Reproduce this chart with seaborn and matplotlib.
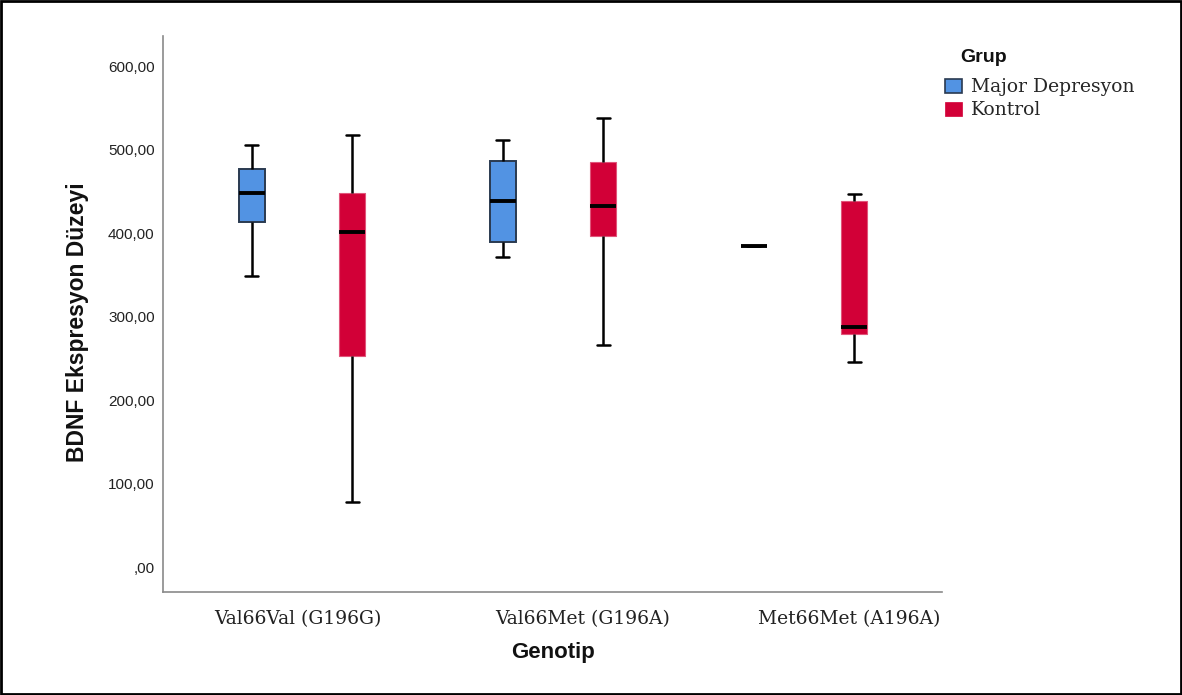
import numpy as np
import pandas as pd
import matplotlib
matplotlib.use("Agg")
import matplotlib.pyplot as plt
from matplotlib.ticker import FuncFormatter
from matplotlib.patches import Rectangle, Patch
import seaborn as sns

# ---- data (five-number summaries: min, Q1, median, Q3, max) ----
genotypes = ["Val66Val (G196G)", "Val66Met (G196A)", "Met66Met (A196A)"]
groups = ["Major Depresyon", "Kontrol"]

md_valval = [349, 414, 448, 477, 506]
md_valmet = [371, 389, 438, 486, 511]
md_metmet = [385]
kt_valval = [78, 253, 402, 448, 518]
kt_valmet = [266, 397, 433, 485, 538]
kt_metmet = [246, 280, 288, 439, 447]

ytick_values = [0, 100, 200, 300, 400, 500, 600]

rows = []
for g, vals in zip(genotypes, [md_valval, md_valmet, md_metmet]):
    rows += [(g, groups[0], v) for v in vals]
for g, vals in zip(genotypes, [kt_valval, kt_valmet, kt_metmet]):
    rows += [(g, groups[1], v) for v in vals]
df = pd.DataFrame(rows, columns=["Genotip", "Grup", "BDNF"])

blue = "#5293E3"
red = "#D20037"
palette = {groups[0]: blue, groups[1]: red}

sns.set_style("white")
fig = plt.figure(figsize=(11.82, 6.95), dpi=100)
ax = fig.add_axes([163 / 1182, 103 / 695, (942 - 163) / 1182, (592 - 36) / 695])

sns.boxplot(
    data=df, x="Genotip", y="BDNF", hue="Grup", order=genotypes, hue_order=groups,
    palette=palette, width=0.8, gap=0.74, whis=1.5, saturation=1,
    linecolor="#222222", linewidth=1.6, fliersize=0,
    medianprops=dict(color="black", linewidth=2.8),
    whiskerprops=dict(color="black", linewidth=1.8),
    capprops=dict(color="black", linewidth=1.8),
    ax=ax, legend=False,
)

for p in ax.patches:
    fc = p.get_facecolor()
    if fc[0] > 0.6 and fc[2] < 0.4:
        p.set_edgecolor("#E0557A")
        p.set_linewidth(0.8)
    else:
        p.set_edgecolor("#2a3a50")
        p.set_linewidth(1.4)

ax.set_xlim(-0.554, 2.55)
ax.set_ylim(-29.3, 636)
ax.set_yticks(ytick_values)

# tick labels sit slightly right of the category centres in the reference
label_shift = np.array([-0.016, 0.12, 0.18])
ax.set_xticks(np.arange(len(genotypes)) + label_shift, genotypes)

def fmt(v, pos):
    s = f"{v:.2f}".replace(".", ",")
    if s.startswith("0,"):
        s = s[1:]
    return s

ax.yaxis.set_major_formatter(FuncFormatter(fmt))
ax.tick_params(axis="both", length=0)
for lab in ax.get_yticklabels():
    lab.set_fontfamily("Liberation Sans")
    lab.set_fontsize(11)
    lab.set_color("#222222")
for lab in ax.get_xticklabels():
    lab.set_fontfamily("DejaVu Serif")
    lab.set_fontsize(13.5)
    lab.set_color("#222222")
ax.tick_params(axis="x", pad=13)
ax.tick_params(axis="y", pad=6)

for side in ["top", "right"]:
    ax.spines[side].set_visible(False)
for side in ["left", "bottom"]:
    ax.spines[side].set_color("#8a8a8a")
    ax.spines[side].set_linewidth(1.2)

ax.set_xlabel("Genotip", fontfamily="Liberation Sans", fontweight="bold", fontsize=16,
              labelpad=10, color="#111111")
ax.set_ylabel("BDNF Ekspresyon Düzeyi", fontfamily="Liberation Sans", fontweight="bold",
              fontsize=16.5, labelpad=10, color="#111111")
ax.yaxis.set_label_coords(-0.095, 0.485)

handles = [Patch(facecolor=blue, edgecolor="#2a3a50", linewidth=1.2),
           Patch(facecolor=red, edgecolor=red, linewidth=0.5)]
leg = fig.legend(handles, groups, loc="upper left", bbox_to_anchor=(937 / 1182, 1 - 71 / 695),
                 frameon=False,
                 prop={"family": "DejaVu Serif", "size": 13.5},
                 handlelength=0.95, handleheight=0.8, handletextpad=0.45, labelspacing=0.25,
                 borderaxespad=0)
fig.text(960 / 1182, 1 - 57 / 695, "Grup", fontfamily="Liberation Sans", fontweight="bold",
         fontsize=14, va="center", ha="left", color="#111111")

fig.patches.append(Rectangle((0.001, 0.0015), 0.998, 0.997, transform=fig.transFigure,
                             fill=False, edgecolor="black", linewidth=2))

fig.savefig("out.png", dpi=100)
